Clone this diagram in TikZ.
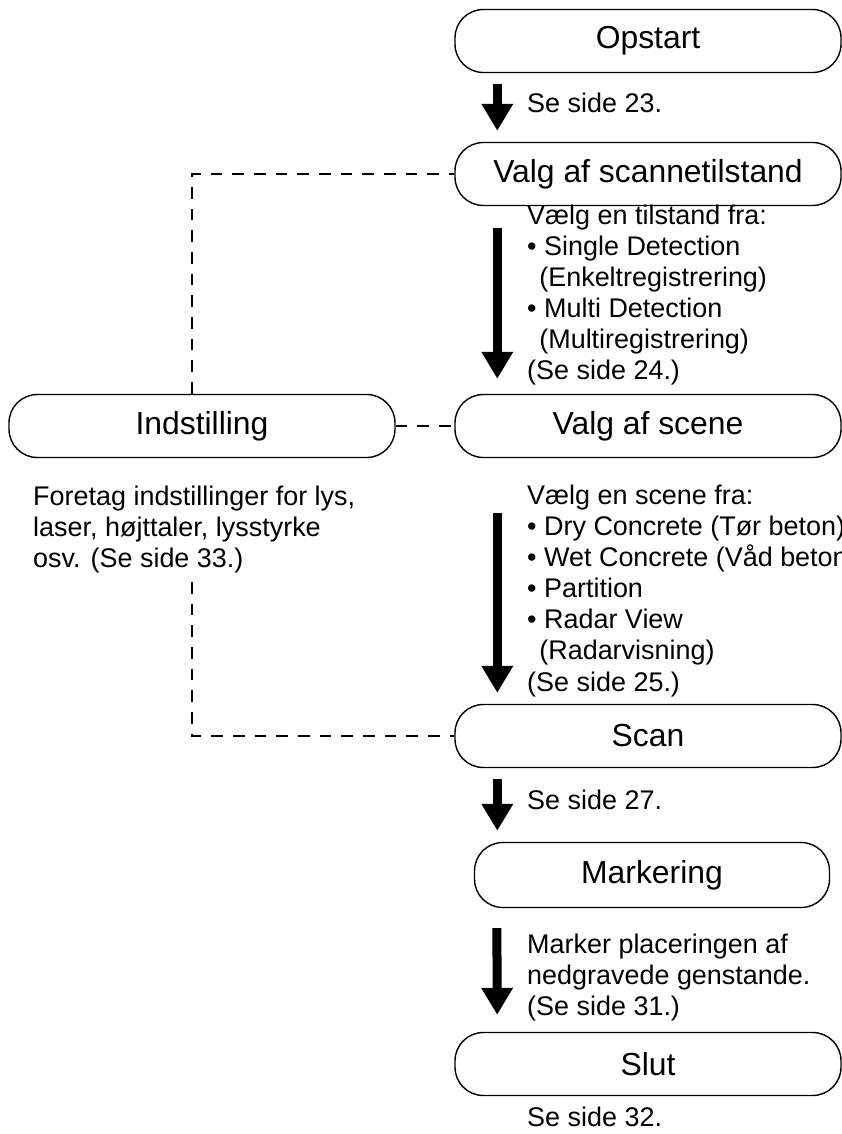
\documentclass[tikz,border=0pt]{standalone}
\usepackage{fontspec}
\setmainfont{Liberation Sans}
\usetikzlibrary{arrows.meta}

\begin{document}
\begin{tikzpicture}
[x=0.3mm,y=-0.3mm,
every node/.style={font=\fontsize{23}{26.5}\selectfont},
stage/.style={draw,line width=1.2pt,rounded corners=8.5mm,minimum width=115.8mm,minimum height=18.9mm,font=\fontsize{27.2}{30}\selectfont},
note/.style={align=left,anchor=north west,inner sep=0pt},
ref/.style={anchor=west,inner sep=0pt},
flow/.style={line width=2.7mm,-{Triangle[length=8.1mm,width=9mm]}},
link/.style={line width=0.8mm,dash pattern=on 3.5mm off 3mm}]
\useasboundingbox (0,0) rectangle (841,1134);
\node[stage] (start) at (648,41) {Opstart};
\node[stage] (mode) at (648,174) {Valg af scannetilstand};
\node[stage] (setup) at (202,426) {Indstilling};
\node[stage] (scene) at (648,426) {Valg af scene};
\node[stage] (scan) at (648,736) {Scan};
\node[stage,minimum width=106.5mm,minimum height=19.5mm] (mark) at (652,875) {Markering};
\node[stage] (stop) at (648,1064) {Slut};
\node[ref] (t1) at (527,103) {Se side 23.};
\node[note] (t2) at (527,205) {Vælg en tilstand fra:\\• Single Detection\\\hspace*{0.45em}(Enkeltregistrering)\\• Multi Detection\\\hspace*{0.45em}(Multiregistrering)\\(Se side 24.)};
\node[note] (t3) at (33,486) {Foretag indstillinger for lys,\\laser, højttaler, lysstyrke\\osv. (Se side 33.)};
\node[note] (t4) at (527,485) {Vælg en scene fra:\\• Dry Concrete (Tør beton)\\• Wet Concrete (Våd beton)\\• Partition\\• Radar View\\\hspace*{0.45em}(Radarvisning)\\(Se side 25.)};
\node[ref] (t5) at (527,800) {Se side 27.};
\node[note] (t6) at (527,934) {Marker placeringen af\\nedgravede genstande.\\(Se side 31.)};
\node[ref] (t7) at (527,1117) {Se side 32.};
\coordinate (c1) at (192,174);
\coordinate (c2) at (192,736);
% main flow
\draw[flow,shorten <=3.3mm,shorten >=3.3mm] ([xshift=12.9mm]start.south west) -- ([xshift=12.9mm]mode.north west);
\draw[flow,shorten <=6.6mm,shorten >=4.5mm] ([xshift=12.9mm]mode.south west) -- ([xshift=12.9mm]scene.north west);
\draw[flow,shorten <=16.5mm,shorten >=3.3mm] ([xshift=12.9mm]scene.south west) -- ([xshift=12.9mm]scan.north west);
\draw[flow,shorten <=3.3mm,shorten >=3.3mm] ([xshift=12.9mm]scan.south west) -- ([xshift=12.9mm]scan.south west |- mark.north);
\draw[flow,shorten <=6mm,shorten >=5.1mm] ([xshift=6.9mm]mark.south west) -- ([xshift=12.9mm]stop.north west);
% settings links
\draw[link] (setup.north -| c1) -- (c1) -- (mode.west);
\draw[link] (setup.east) -- (scene.west);
\draw[link,shorten <=2.5mm] (t3.south -| c2) -- (c2) -- (scan.west);
\end{tikzpicture}
\end{document}
